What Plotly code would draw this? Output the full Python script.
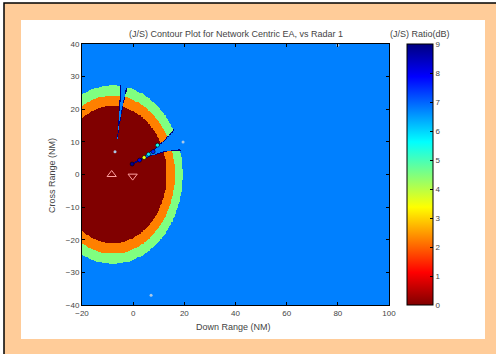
import numpy as np
import plotly.graph_objects as go

W, H = 496, 354
L, R, T, B = 82, 107, 44, 49

# --- data ---
x_ticks = [-20, 0, 20, 40, 60, 80, 100]
y_ticks = [-40, -30, -20, -10, 0, 10, 20, 30, 40]
cbar_ticks = [0, 1, 2, 3, 4, 5, 6, 7, 8, 9]
center = [-8.0, 0.0]                 # centre of the J/S rings (NM)
ring_radii = [21.0, 24.2, 27.3]      # outer radius of red, orange, green bands
ring_values = [0.0, 2.25, 4.5]       # J/S (dB) inside each band
background_value = 6.75              # J/S (dB) outside the rings
rim_value = 9.0
# radial notches: angle (deg), start radius, half-width coefficient, exponent, base half width
notch_angle = [81.0, 23.0]
notch_start = [11.0, 8.7]
notch_coef = [0.03, 0.058]
notch_pow = [1.5, 1.6]
notch_base = [0.2, 0.2]
radar_up = [[-8.4], [0.0]]
radar_down = [[-0.2], [-0.5]]
emitters_x = [-7.1, 19.5, 7.0, 80.0]
emitters_y = [7.0, 10.0, -37.0, 39.6]
blob_x = [-0.4, 2.5, 4.3, 6.0, 7.8, 9.5]
blob_y = [3.2, 4.4, 5.2, 6.2, 7.0, 9.0]
blob_v = [8.8, 8.0, 3.5, 5.8, 7.5, 5.5]

# --- field on grid ---
gx = np.linspace(-20, 100, 481)
gy = np.linspace(-40, 40, 321)
X, Y = np.meshgrid(gx, gy)
Rr = np.hypot(X - center[0], Y - center[1])
TH = np.degrees(np.arctan2(Y - center[1], X - center[0]))
Z = np.full(X.shape, background_value)
for rad, val in sorted(zip(ring_radii, ring_values), reverse=True):
    Z[Rr < rad] = val
for a, r0, c, p, b0 in zip(notch_angle, notch_start, notch_coef, notch_pow, notch_base):
    hw = b0 + c * np.clip(Rr - r0, 0, None) ** p
    d = np.abs(TH - a)
    inside = (Rr > r0) & (Rr < ring_radii[-1] + 0.3)
    rim = inside & (d < hw + 0.7)
    Z[rim] = rim_value
    Z[inside & (d < hw)] = background_value

jet = [[0.0, 'rgb(128,0,0)'], [0.125, 'rgb(255,0,0)'], [0.375, 'rgb(255,255,0)'],
       [0.625, 'rgb(0,255,255)'], [0.875, 'rgb(0,0,255)'], [1.0, 'rgb(0,0,128)']]

FONT = 'Liberation Sans, Arial, sans-serif'
TXT = '#444444'

fig = go.Figure()
fig.add_trace(go.Heatmap(
    x=gx, y=gy, z=Z, zmin=0, zmax=9, colorscale=jet, zsmooth=False,
    hoverinfo='skip',
    colorbar=dict(
        x=(407 - L) / (W - L - R), xanchor='left', xpad=0, ypad=0,
        y=0.5, yanchor='middle', lenmode='pixels', len=261,
        thickness=26, thicknessmode='pixels',
        outlinecolor='black', outlinewidth=1,
        tickvals=cbar_ticks, ticks='inside', ticklen=3, tickcolor='black',
        tickfont=dict(size=8, color=TXT, family=FONT),
    ),
))
fig.add_trace(go.Scatter(
    x=blob_x, y=blob_y, mode='markers',
    marker=dict(size=4, color=blob_v, cmin=0, cmax=9, colorscale=jet,
                line=dict(width=0.6, color='black')),
    hoverinfo='skip', showlegend=False))
fig.add_trace(go.Scatter(
    x=emitters_x, y=emitters_y, mode='markers',
    marker=dict(size=3, color='rgb(170,200,230)'), hoverinfo='skip', showlegend=False))
fig.add_trace(go.Scatter(
    x=radar_up[0], y=radar_up[1], mode='markers',
    marker=dict(symbol='triangle-up-open', size=8, color='rgb(255,160,160)', line=dict(width=1)),
    hoverinfo='skip', showlegend=False))
fig.add_trace(go.Scatter(
    x=radar_down[0], y=radar_down[1], mode='markers',
    marker=dict(symbol='triangle-down-open', size=8, color='rgb(255,160,160)', line=dict(width=1)),
    hoverinfo='skip', showlegend=False))


def px2paper(px, py):
    return (px - L) / (W - L - R), 1 - (py - T) / (H - T - B)


shapes = []
x0, y1 = px2paper(4, 3)
x1, y0 = px2paper(W + 2, H + 2)
shapes.append(dict(type='rect', xref='paper', yref='paper', x0=x0, x1=x1, y0=y0, y1=y1,
                   fillcolor='#FFCC99', line=dict(color='black', width=1.5), layer='below'))
x0, y1 = px2paper(21, 20)
x1, y0 = px2paper(485, 339)
shapes.append(dict(type='rect', xref='paper', yref='paper', x0=x0, x1=x1, y0=y0, y1=y1,
                   fillcolor='white', line=dict(width=0), layer='below'))

ann = []
def add_text(px, py, text, angle=0, size=9):
    xx, yy = px2paper(px, py)
    ann.append(dict(xref='paper', yref='paper', x=xx, y=yy, text=text, showarrow=False,
                    textangle=angle, xanchor='center', yanchor='middle',
                    font=dict(size=size, color=TXT, family=FONT)))

add_text(236, 34, '(J/S) Contour Plot for Network Centric EA, vs Radar 1')
add_text(420, 34, '(J/S) Ratio(dB)')
add_text(233, 327, 'Down Range (NM)')
add_text(52, 176, 'Cross Range (NM)', angle=-90)

axis_common = dict(showline=True, linecolor='black', linewidth=1, mirror='ticks',
                   ticks='inside', ticklen=3, tickcolor='black', showgrid=False, zeroline=False,
                   tickfont=dict(size=8, color=TXT, family=FONT))
fig.update_layout(
    width=W, height=H, margin=dict(l=L, r=R, t=T, b=B),
    paper_bgcolor='white', plot_bgcolor='white', showlegend=False,
    xaxis=dict(range=[-20, 100], tickvals=x_ticks, **axis_common),
    yaxis=dict(range=[-40, 40], tickvals=y_ticks, **axis_common),
    shapes=shapes, annotations=ann,
)
fig.write_html('out.html')
